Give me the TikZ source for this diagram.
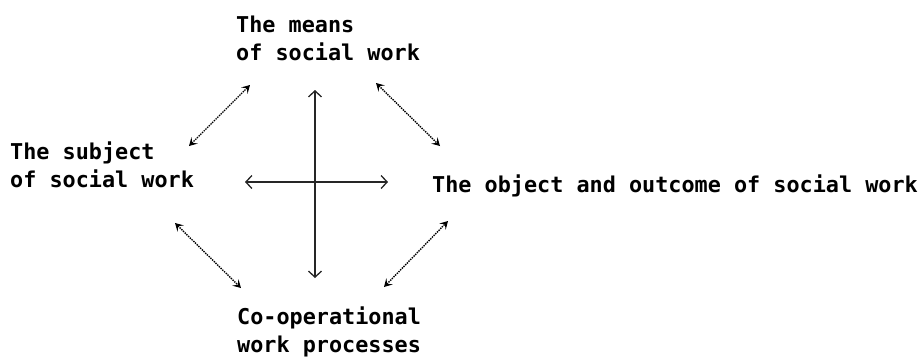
\documentclass[tikz,border=0pt]{standalone}
\usepackage{fontspec}
\setmonofont{DejaVu Sans Mono}
\usetikzlibrary{arrows.meta}

\begin{document}
\begin{tikzpicture}[x=1pt, y=-1pt,
  part/.style={anchor=north west, inner sep=0pt, align=left,
               font=\ttfamily\bfseries\fontsize{21.8}{28}\selectfont},
  cross/.style={{Straight Barb[length=6pt, width=13pt]}-{Straight Barb[length=6pt, width=13pt]}, line width=1.3pt, black!85},
  link/.style={{Stealth[length=8pt, width=9pt, inset=3.5pt]}-{Stealth[length=8pt, width=9pt, inset=3.5pt]}, densely dotted, line width=1.4pt, black}
]
  \useasboundingbox (0,0) rectangle (924,360);

  \node[part] (means)   at (236,16)  {The means\\of social work};
  \node[part] (subject) at (10,142)  {The subject\\of social work};
  \node[part] (object)  at (432,175) {The object and outcome of social work};
  \node[part] (coop)    at (237,307) {Co-operational\\work processes};

  % ends of the arrows
  \coordinate (h1) at (245,182);
  \coordinate (h2) at (388,182);
  \coordinate (v1) at (315,90);
  \coordinate (v2) at (315,278);
  \coordinate (sm1) at (189,146);
  \coordinate (sm2) at (250,85);
  \coordinate (mo1) at (376,83);
  \coordinate (mo2) at (440,146);
  \coordinate (sc1) at (175,223);
  \coordinate (sc2) at (241,288);
  \coordinate (co1) at (384,287);
  \coordinate (co2) at (448,221);

  \draw[cross] (h1) -- (h2);
  \draw[cross] (v1) -- (v2);

  \draw[link] (sm1) -- (sm2);
  \draw[link] (mo1) -- (mo2);
  \draw[link] (sc1) -- (sc2);
  \draw[link] (co1) -- (co2);
\end{tikzpicture}
\end{document}
